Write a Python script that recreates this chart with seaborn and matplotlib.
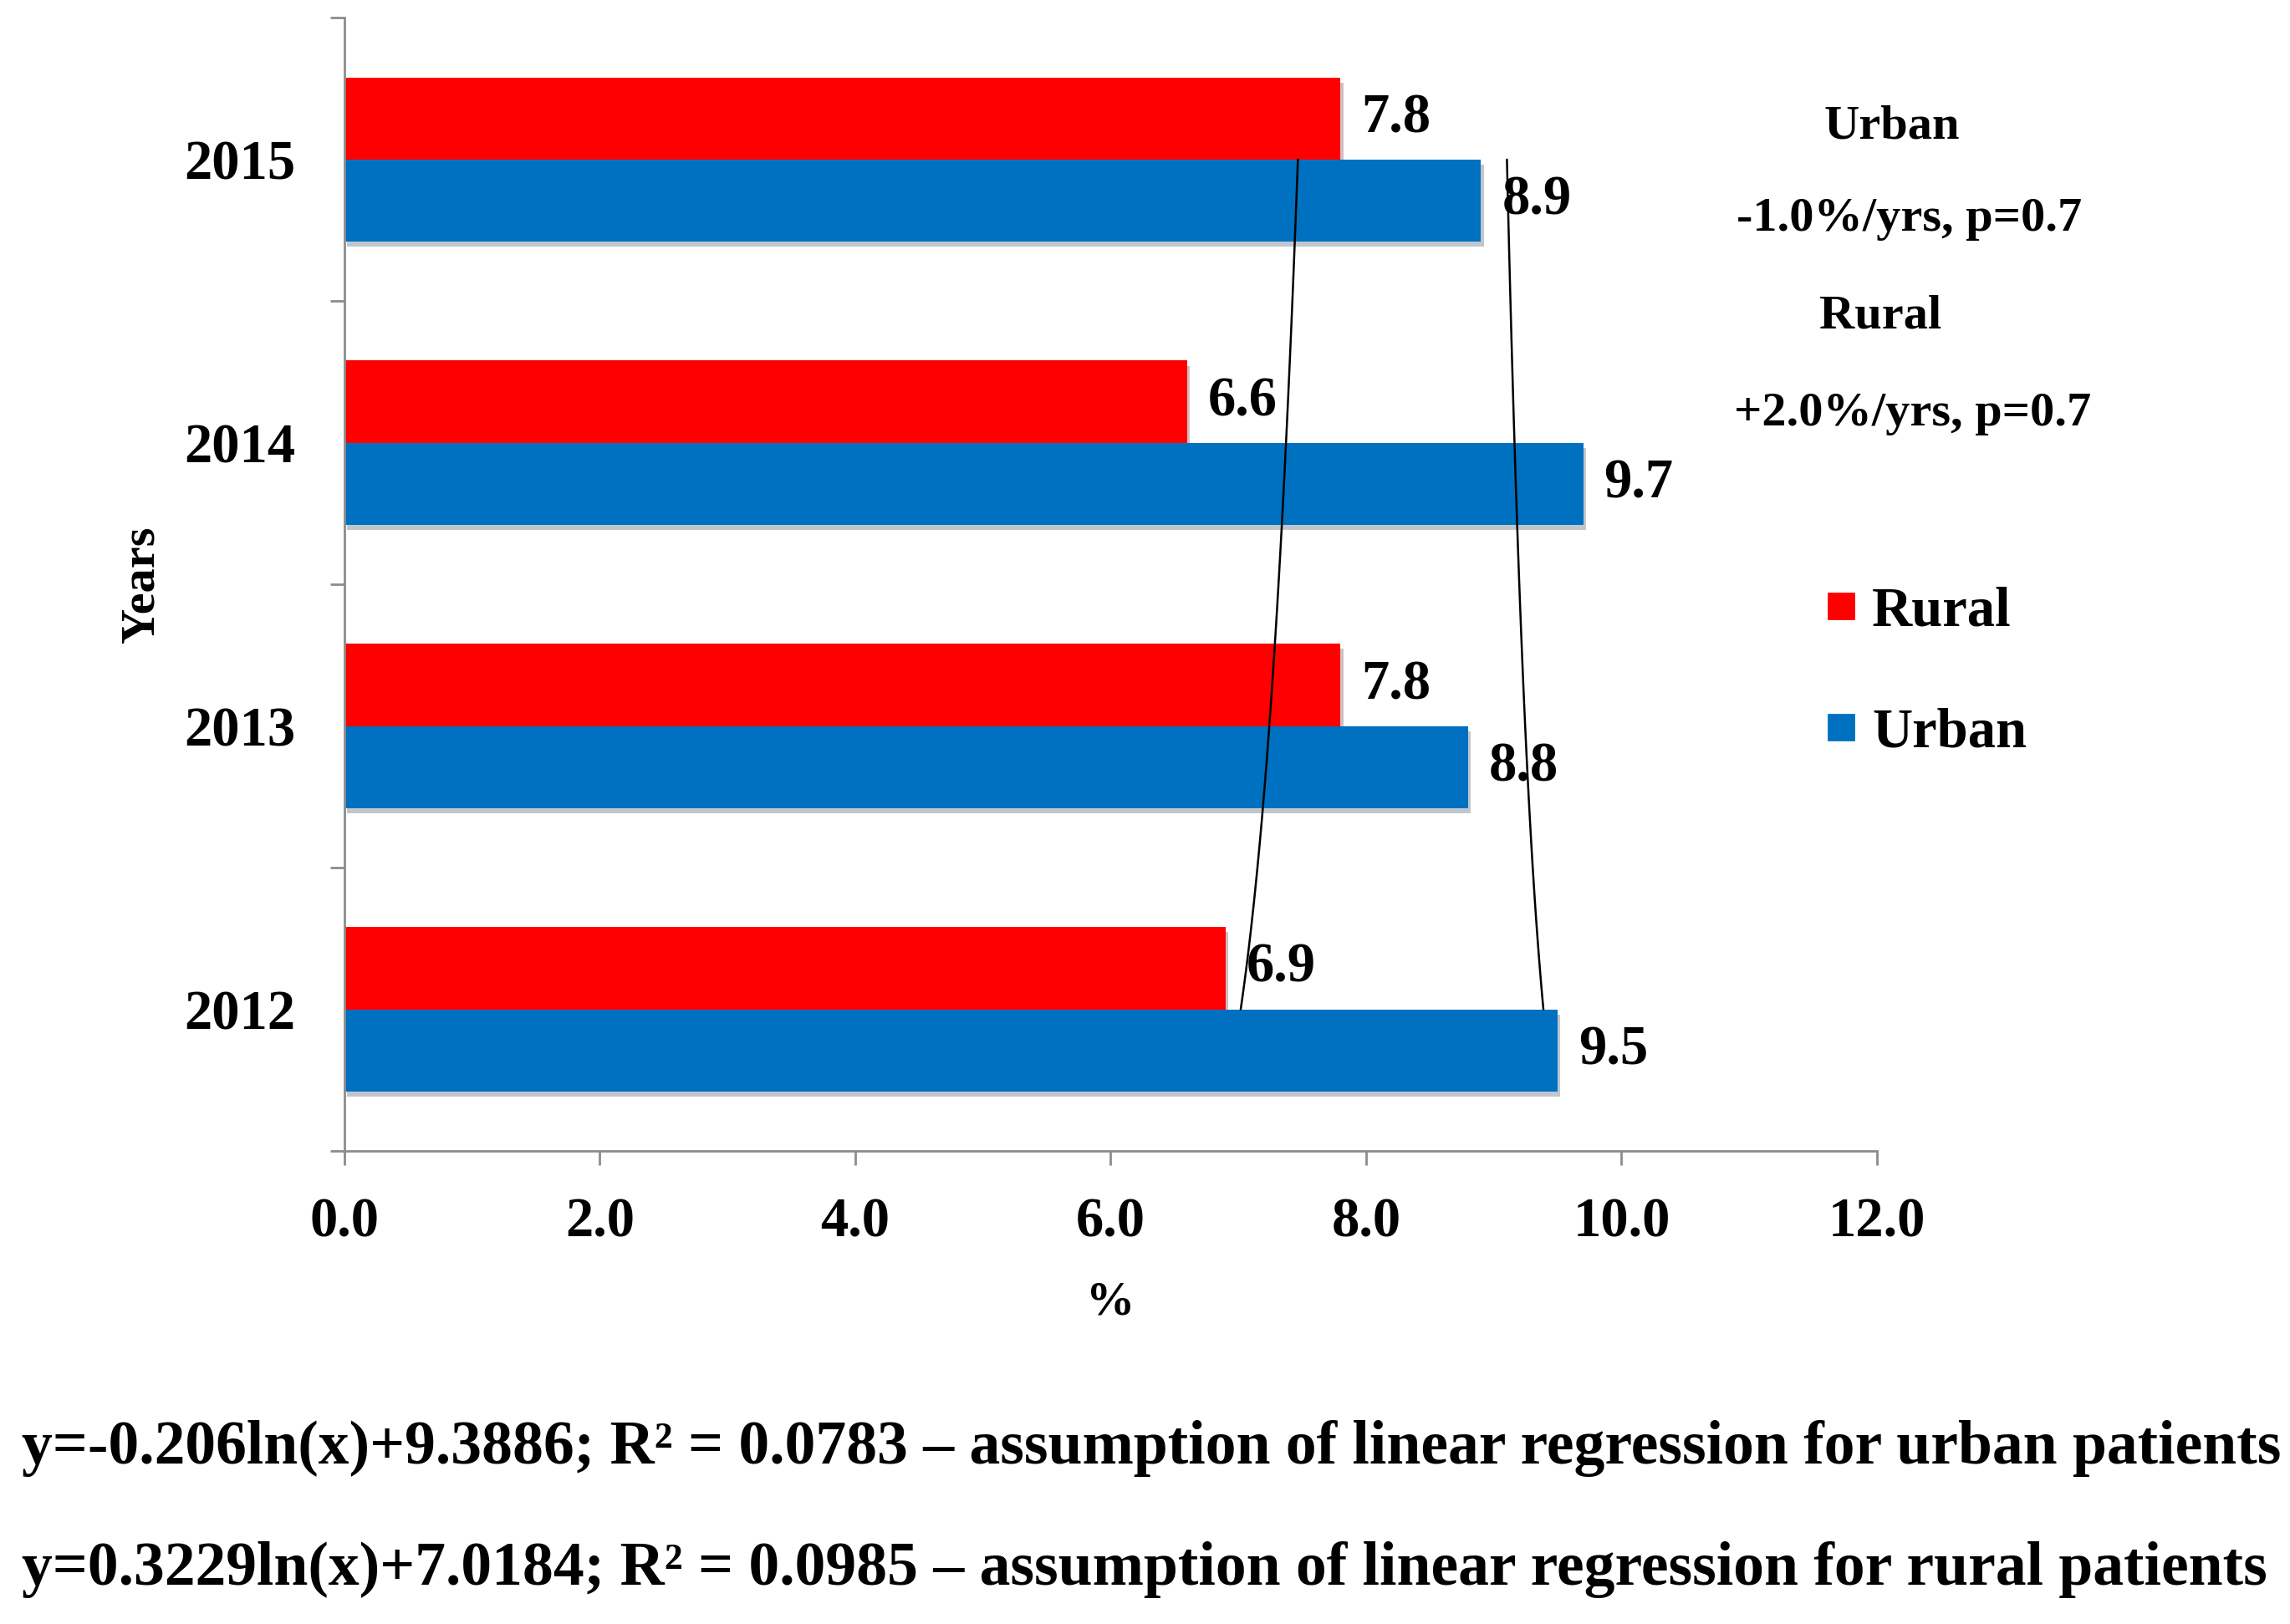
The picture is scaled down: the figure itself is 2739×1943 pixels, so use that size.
import numpy as np
import pandas as pd
import seaborn as sns
import matplotlib.pyplot as plt
from matplotlib import patheffects as pe
from matplotlib.lines import Line2D

years = ['2012', '2013', '2014', '2015']
rural = [6.9, 7.8, 6.6, 7.8]
urban = [9.5, 8.8, 9.7, 8.9]
xticks = [0, 2, 4, 6, 8, 10, 12]
series = ['Rural', 'Urban']
colors = {'Rural': '#FF0000', 'Urban': '#0070C0'}

sns.set_theme(style='white')
plt.rcParams['font.family'] = ['Liberation Serif', 'DejaVu Serif']
plt.rcParams['font.weight'] = 'bold'
plt.rcParams['text.color'] = 'black'
plt.rcParams['axes.labelcolor'] = 'black'
plt.rcParams['xtick.labelcolor'] = 'black'
plt.rcParams['ytick.labelcolor'] = 'black'

df = pd.DataFrame({'Year': years * 2,
                   'Value': rural + urban,
                   'Area': ['Rural'] * 4 + ['Urban'] * 4})

fig = plt.figure(figsize=(13.695, 9.715), dpi=200)
ax = fig.add_axes([0.1504, 0.2913, 0.6692, 0.6977])
order = years[::-1]
sns.barplot(data=df, x='Value', y='Year', hue='Area', order=order,
            hue_order=series, palette=colors, orient='h', width=0.58,
            saturation=1, ax=ax, legend=False, zorder=2, linewidth=0)

for p in ax.patches:
    p.set_path_effects([pe.SimplePatchShadow(offset=(1.2, -2.2), alpha=0.25),
                        pe.Normal()])

for c in ax.containers:
    ax.bar_label(c, fmt='%.1f', padding=9, fontsize=24, fontweight='bold', color='black')

# logarithmic trend lines fitted from the data
t = np.arange(1, len(years) + 1)
tt = np.linspace(1, len(years), 80)
for vals in (urban, rural):
    k, b = np.polyfit(np.log(t), vals, 1)
    ax.plot(k * np.log(tt) + b, len(years) - tt, color='black', lw=0.9, zorder=3)

ax.set_xlim(0, 12)
ax.set_ylim(3.5, -0.5)
ax.set_xticks(xticks)
ax.set_xticklabels([f'{v:.1f}' for v in xticks])
ax.set_yticks([-0.5, 0.5, 1.5, 2.5, 3.5], minor=True)
gray = '#8C8C8C'
for s in ['top', 'right']:
    ax.spines[s].set_visible(False)
for s in ['left', 'bottom']:
    ax.spines[s].set_color(gray)
    ax.spines[s].set_linewidth(1.0)
ax.tick_params(axis='y', which='major', length=0, pad=21, labelsize=24, labelcolor='black')
ax.tick_params(axis='y', which='minor', length=6, width=1, color=gray, direction='out', left=True)
ax.tick_params(axis='x', which='major', length=6, width=1, color=gray, direction='out', bottom=True,
               pad=14, labelsize=24, labelcolor='black')
for lab in ax.get_xticklabels() + ax.get_yticklabels():
    lab.set_fontweight('bold')
ax.set_xlabel('%', fontsize=21, fontweight='bold', labelpad=14, color='black')
ax.set_ylabel('Years', fontsize=21, fontweight='bold', labelpad=9, color='black')

fig.text(0.826, 0.922, 'Urban', ha='center', va='center', fontsize=21, fontweight='bold')
fig.text(0.8336, 0.865, '-1.0%/yrs, p=0.7', ha='center', va='center', fontsize=21, fontweight='bold')
fig.text(0.821, 0.805, 'Rural', ha='center', va='center', fontsize=21, fontweight='bold')
fig.text(0.835, 0.745, '+2.0%/yrs, p=0.7', ha='center', va='center', fontsize=21, fontweight='bold')

handles = [Line2D([], [], marker='s', ls='', color=colors[s], markersize=11) for s in series]
leg = fig.legend(handles, series, loc='center left', bbox_to_anchor=(0.7822, 0.586),
                 frameon=False, fontsize=24, handletextpad=0.15, labelspacing=1.25,
                 handlelength=0.8, borderpad=0)
for tx in leg.get_texts():
    tx.set_color('black')

fig.text(0.0096, 0.108,
         'y=-0.206ln(x)+9.3886; R² = 0.0783 – assumption of linear regression for urban patients',
         ha='left', va='center', fontsize=26.5, fontweight='bold')
fig.text(0.0096, 0.0335,
         'y=0.3229ln(x)+7.0184; R² = 0.0985 – assumption of linear regression for rural patients',
         ha='left', va='center', fontsize=26.5, fontweight='bold')

fig.savefig('out.png', dpi=200, facecolor='white')
